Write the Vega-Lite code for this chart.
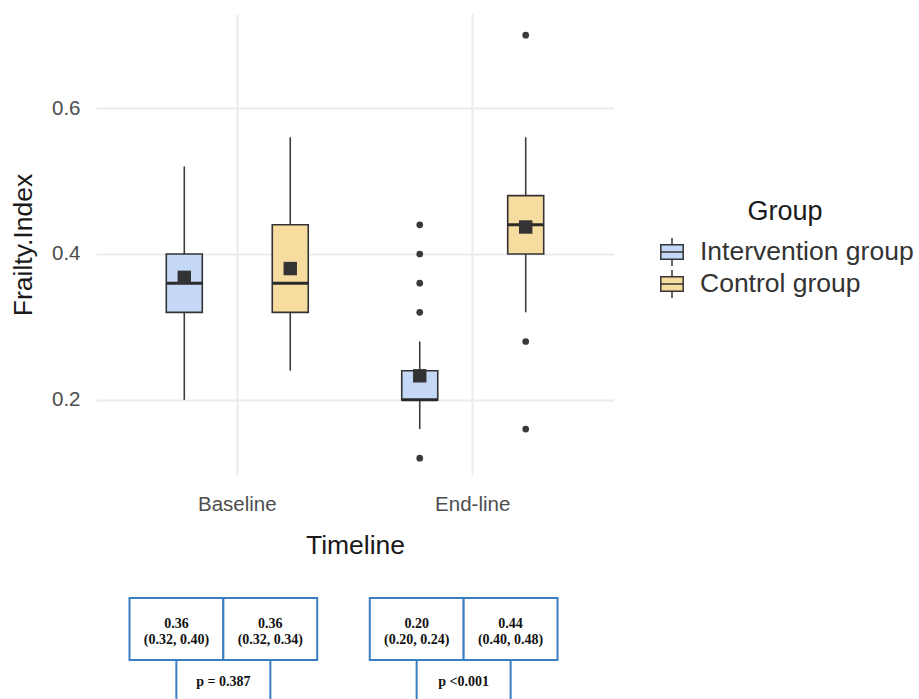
{
  "$schema": "https://vega.github.io/schema/vega-lite/v6.json",
  "background": "white",
  "padding": {"left": 10, "top": 14, "right": 5, "bottom": 0},
  "config": {
    "font": "Liberation Sans",
    "view": {"stroke": null},
    "text": {"lineBreak": "\n"}
  },
  "datasets": {
    "box": [
      {"Timeline": "Baseline", "Group": "Intervention group", "lower": 0.20, "q1": 0.32, "median": 0.36, "q3": 0.40, "upper": 0.52, "mean": 0.368},
      {"Timeline": "Baseline", "Group": "Control group", "lower": 0.24, "q1": 0.32, "median": 0.36, "q3": 0.44, "upper": 0.56, "mean": 0.380},
      {"Timeline": "End-line", "Group": "Intervention group", "lower": 0.16, "q1": 0.20, "median": 0.20, "q3": 0.24, "upper": 0.28, "mean": 0.233},
      {"Timeline": "End-line", "Group": "Control group", "lower": 0.32, "q1": 0.40, "median": 0.44, "q3": 0.48, "upper": 0.56, "mean": 0.437}
    ],
    "outliers": [
      {"Timeline": "End-line", "Group": "Intervention group", "value": 0.44},
      {"Timeline": "End-line", "Group": "Intervention group", "value": 0.40},
      {"Timeline": "End-line", "Group": "Intervention group", "value": 0.36},
      {"Timeline": "End-line", "Group": "Intervention group", "value": 0.32},
      {"Timeline": "End-line", "Group": "Intervention group", "value": 0.12},
      {"Timeline": "End-line", "Group": "Control group", "value": 0.70},
      {"Timeline": "End-line", "Group": "Control group", "value": 0.28},
      {"Timeline": "End-line", "Group": "Control group", "value": 0.16}
    ],
    "table": [
      {"Timeline": "Baseline", "Group": "Intervention group", "row": "Median (IQR)", "label": "0.36\n(0.32, 0.40)"},
      {"Timeline": "Baseline", "Group": "Control group", "row": "Median (IQR)", "label": "0.36\n(0.32, 0.34)"},
      {"Timeline": "End-line", "Group": "Intervention group", "row": "Median (IQR)", "label": "0.20\n(0.20, 0.24)"},
      {"Timeline": "End-line", "Group": "Control group", "row": "Median (IQR)", "label": "0.44\n(0.40, 0.48)"}
    ],
    "pvals": [
      {"Timeline": "Baseline", "row": "P-value", "label": "p = 0.387"},
      {"Timeline": "End-line", "row": "P-value", "label": "p <0.001"}
    ]
  },
  "bounds": "flush",
  "spacing": 123,
  "resolve": {"scale": {"x": "independent", "y": "independent", "xOffset": "independent"}},
  "vconcat": [
    {
      "width": 518,
      "height": 461,
      "encoding": {
        "x": {
          "field": "Timeline", "type": "nominal",
          "scale": {"domain": ["Baseline", "End-line"], "paddingInner": 0, "paddingOuter": 0.1},
          "axis": {
            "title": "Timeline", "labelAngle": 0, "labelFontSize": 20.5, "labelColor": "#4d4d4d",
            "labelPadding": 19, "titleFontSize": 26.5, "titleFontWeight": "normal", "titleColor": "#1a1a1a",
            "titlePadding": 18, "ticks": false, "domain": false, "grid": true, "bandPosition": 0.5,
            "gridColor": "#ebebeb", "gridWidth": 2
          }
        },
        "xOffset": {
          "field": "Group", "type": "nominal",
          "scale": {"domain": ["Intervention group", "Control group"], "paddingInner": 0, "paddingOuter": 0.111}
        }
      },
      "layer": [
        {
          "data": {"name": "box"},
          "mark": {"type": "rule", "color": "#3d3d3d", "strokeWidth": 1.6},
          "encoding": {
            "y": {
              "field": "lower", "type": "quantitative",
              "scale": {"domain": [0.097, 0.729], "nice": false, "zero": false},
              "axis": {
                "title": "Frailty.Index", "values": [0.2, 0.4, 0.6], "format": ".1f",
                "labelFontSize": 20.5, "labelColor": "#4d4d4d", "labelPadding": 16,
                "titleFontSize": 26.5, "titleFontWeight": "normal", "titleColor": "#1a1a1a", "titlePadding": 14,
                "ticks": false, "domain": false, "grid": true, "gridColor": "#ebebeb", "gridWidth": 2
              }
            },
            "y2": {"field": "upper"}
          }
        },
        {
          "data": {"name": "box"},
          "mark": {"type": "bar", "width": 36, "stroke": "#333333", "strokeWidth": 1.6},
          "encoding": {
            "y": {"field": "q1", "type": "quantitative"},
            "y2": {"field": "q3"},
            "fill": {
              "field": "Group", "type": "nominal",
              "scale": {"domain": ["Intervention group", "Control group"], "range": ["#c5d8f7", "#f7dca0"]},
              "legend": {
                "title": "Group", "orient": "none", "legendX": 561, "legendY": 185,
                "symbolType": "M-0.8,-0.52H0.8V0.52H-0.8Z M-0.8,0H0.8 M0,-1V-0.52 M0,0.52V1",
                "symbolSize": 784, "symbolStrokeColor": "#333333", "symbolStrokeWidth": 1.5,
                "symbolOpacity": 1,
                "labelFontSize": 26.5, "labelColor": "#333333", "labelOffset": 13, "labelLimit": 400,
                "titleFontSize": 27, "titleFontWeight": "normal", "titleColor": "#1a1a1a",
                "titleAnchor": "middle", "titlePadding": 11, "rowPadding": -12
              }
            }
          }
        },
        {
          "data": {"name": "box"},
          "mark": {"type": "tick", "color": "#2b2b2b", "thickness": 3, "size": 36, "orient": "horizontal", "opacity": 1},
          "encoding": {"y": {"field": "median", "type": "quantitative"}}
        },
        {
          "data": {"name": "box"},
          "mark": {"type": "point", "shape": "square", "filled": true, "size": 180, "color": "#333333", "opacity": 1},
          "encoding": {"y": {"field": "mean", "type": "quantitative"}}
        },
        {
          "data": {"name": "outliers"},
          "mark": {"type": "point", "shape": "circle", "filled": true, "size": 45, "color": "#3a3a3a", "opacity": 1},
          "encoding": {"y": {"field": "value", "type": "quantitative"}}
        }
      ]
    },
    {
      "width": 495,
      "height": 124,
      "encoding": {
        "x": {
          "field": "Timeline", "type": "nominal",
          "scale": {"domain": ["Baseline", "End-line"], "paddingInner": 0, "paddingOuter": 0.03},
          "axis": null
        },
        "y": {
          "field": "row", "type": "nominal",
          "scale": {"domain": ["Median (IQR)", "P-value"], "paddingInner": 0, "paddingOuter": 0},
          "axis": null
        }
      },
      "layer": [
        {
          "data": {"name": "table"},
          "mark": {"type": "rect", "fill": "white", "stroke": "#3a7dc2", "strokeWidth": 2},
          "encoding": {
            "xOffset": {
              "field": "Group", "type": "nominal",
              "scale": {"domain": ["Intervention group", "Control group"], "paddingInner": 0, "paddingOuter": 0.28}
            }
          }
        },
        {
          "data": {"name": "pvals"},
          "mark": {"type": "rect", "fill": "white", "stroke": "#3a7dc2", "strokeWidth": 2, "width": 94}
        },
        {
          "data": {"name": "table"},
          "mark": {"type": "text", "font": "Liberation Serif", "fontWeight": "bold", "fontSize": 14, "lineHeight": 16, "color": "#111111", "dy": -5},
          "encoding": {
            "xOffset": {"field": "Group", "type": "nominal"},
            "text": {"field": "label"}
          }
        },
        {
          "data": {"name": "pvals"},
          "mark": {"type": "text", "font": "Liberation Serif", "fontWeight": "bold", "fontSize": 14, "color": "#111111", "dy": -9},
          "encoding": {"text": {"field": "label"}}
        }
      ]
    }
  ]
}
